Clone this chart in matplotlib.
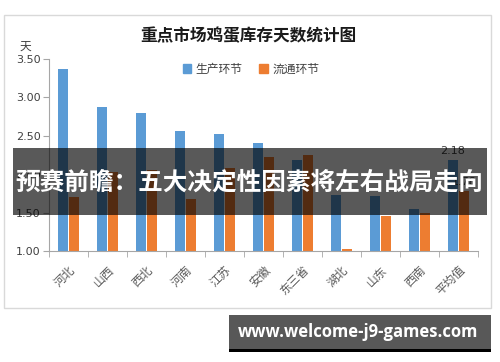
import numpy as np
import matplotlib
matplotlib.use("Agg")
import matplotlib.pyplot as plt
from matplotlib.patches import Rectangle, Patch

plt.rcParams['font.family'] = ['Noto Sans CJK SC', 'DejaVu Sans']

# 数据
regions = ["河北", "山西", "西北", "河南", "江苏", "安徽", "东三省", "湖北", "山东", "西南", "平均值"]
production = [3.37, 2.88, 2.80, 2.56, 2.52, 2.41, 2.19, 1.73, 1.71, 1.55, 2.18]
circulation = [1.70, 2.03, 2.06, 1.68, 2.08, 2.23, 2.25, 1.03, 1.45, 1.49, 1.78]
series_names = ["生产环节", "流通环节"]
yticks = [1.0, 1.5, 2.0, 2.5, 3.0, 3.5]

W, H = 500, 362
fig = plt.figure(figsize=(5, 3.62), dpi=100)
fig.patch.set_facecolor('white')

def fx(px):
    return px / W

def fy(py):
    return 1 - py / H

# 外框
fig.patches.append(Rectangle((fx(4), fy(308)), fx(491) - fx(4), fy(15) - fy(308),
                             transform=fig.transFigure, fill=False,
                             edgecolor='#D9D9D9', linewidth=1, zorder=0))

ax = fig.add_axes([fx(49), fy(251), fx(478) - fx(49), fy(59) - fy(251)])
x = np.arange(len(regions))
bw = 0.24
blue, orange = '#5B9BD5', '#ED7D31'
ax.bar(x - 0.14, production, width=bw, color=blue, zorder=2)
ax.bar(x + 0.14, circulation, width=bw, color=orange, zorder=2)

ax.set_xlim(-0.5, len(regions) - 0.5)
ax.set_ylim(1.0, 3.5)
ax.set_yticks(yticks)
ax.set_yticklabels([f"{v:.2f}" for v in yticks], fontsize=8, color='#404040',
                   family='DejaVu Sans')
ax.tick_params(axis='y', length=4, color='#A6A6A6', pad=2)

ax.set_xticks(x)
ax.set_xticklabels(regions, rotation=45, ha='right', va='top',
                   rotation_mode='anchor', fontsize=8.5, color='#595959')
ax.tick_params(axis='x', length=0, pad=9)
ax.set_xticks(np.arange(len(regions) + 1) - 0.5, minor=True)
ax.tick_params(axis='x', which='minor', length=4, color='#A6A6A6')

for s in ['top', 'right']:
    ax.spines[s].set_visible(False)
for s in ['left', 'bottom']:
    ax.spines[s].set_color('#A6A6A6')

# 平均值数据标签
last = len(regions) - 1
ax.annotate(f"{production[-1]:.2f}", (last - 0.14, production[-1]), xytext=(0, 3),
            textcoords='offset points', ha='center', va='bottom', fontsize=8,
            color='#404040', family='DejaVu Sans')
ax.annotate(f"{circulation[-1]:.2f}", (last + 0.14, circulation[-1]), xytext=(0, 3),
            textcoords='offset points', ha='center', va='bottom', fontsize=8,
            color='#404040', family='DejaVu Sans')

# 标题、单位、图例
fig.text(fx(248), fy(36), "重点市场鸡蛋库存天数统计图", ha='center', va='center',
         fontsize=12, fontweight='bold', color='#1a1a1a')
fig.text(fx(25), fy(46), "天", ha='center', va='center', fontsize=8.5, color='#404040')
handles = [Patch(color=blue), Patch(color=orange)]
fig.legend(handles, series_names, loc='center', bbox_to_anchor=(fx(251), fy(69)),
           ncol=2, frameon=False, fontsize=8.5, handlelength=0.7, handleheight=0.7,
           handletextpad=0.4, columnspacing=1.4, labelcolor='#404040')

# 横幅
fig.patches.append(Rectangle((fx(13), fy(215)), fx(487) - fx(13), fy(148) - fy(215),
                             transform=fig.transFigure, facecolor='black',
                             alpha=0.65, edgecolor='none', zorder=5))
fig.text(fx(249), fy(183), "预赛前瞻：五大决定性因素将左右战局走向", ha='center',
         va='center', fontsize=17.7, fontweight='bold', color='white', zorder=6)

# 网址水印
fig.patches.append(Rectangle((fx(229), fy(352)), fx(491) - fx(229), fy(349) - fy(352),
                             transform=fig.transFigure, facecolor='black',
                             edgecolor='none', zorder=5))
fig.patches.append(Rectangle((fx(229), fy(349)), fx(491) - fx(229), fy(315) - fy(349),
                             transform=fig.transFigure, facecolor='#585858',
                             edgecolor='none', zorder=5))
fig.text(fx(358), fy(332), "www.welcome-j9-games.com", ha='center', va='center',
         fontsize=12, fontweight='bold', color='white', family='Open Sans', zorder=6)

fig.savefig("out.png", dpi=100)
